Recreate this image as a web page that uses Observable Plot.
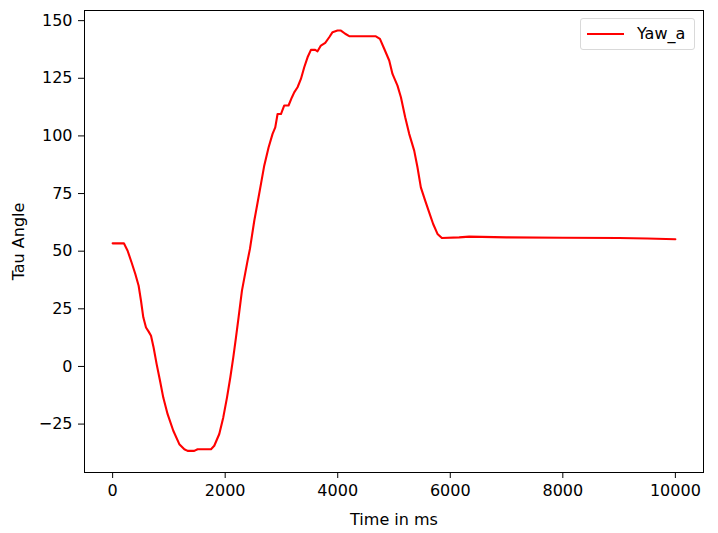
<!DOCTYPE html>
<html>
<head>
<meta charset="utf-8">
<script src="https://cdn.jsdelivr.net/npm/d3@7"></script>
<script src="https://cdn.jsdelivr.net/npm/@observablehq/plot@0.6"></script>
<style>
  html, body { margin: 0; padding: 0; background: #fff; }
  #wrap { position: relative; width: 718px; height: 533px; font-family: "DejaVu Sans", sans-serif; }
  #legend {
    position: absolute; left: 580px; top: 18px; width: 115px; height: 32px;
    box-sizing: border-box; border: 1px solid #d9d9d9; border-radius: 3px; background: rgba(255,255,255,0.8);
    font-size: 16px; color: #000;
  }
  #legend .sw { position: absolute; left: 6px; top: 14px; width: 37px; height: 2px; background: red; }
  #legend .lb { position: absolute; left: 56px; top: 6px; line-height: 18px; }
</style>
</head>
<body>
<div id="wrap"></div>
<script>
const seriesName = "Yaw_a";
const timeMs = [0, 200, 266, 337, 403, 462, 504, 545, 593, 640, 682, 728, 782, 842, 900, 977, 1078, 1185, 1274, 1332, 1451, 1510, 1748, 1806, 1895, 1966, 2032, 2091, 2144, 2192, 2238, 2298, 2398, 2440, 2517, 2593, 2636, 2694, 2771, 2842, 2890, 2931, 2991, 3050, 3126, 3187, 3227, 3286, 3346, 3405, 3464, 3524, 3600, 3641, 3701, 3778, 3849, 3908, 3996, 4057, 4133, 4204, 4678, 4750, 4826, 4915, 4973, 5062, 5123, 5199, 5270, 5359, 5417, 5477, 5554, 5625, 5696, 5773, 5851, 6158, 6336, 7000, 8000, 9000, 9500, 10000];
const yawA = [53.4, 53.4, 50.2, 45.1, 40.1, 35.0, 28.5, 21.3, 16.9, 15.1, 13.3, 8.2, 1.0, -6.2, -13.5, -20.7, -27.9, -33.7, -35.9, -36.6, -36.6, -35.9, -35.9, -34.4, -29.3, -22.1, -13.5, -4.8, 3.9, 12.6, 21.3, 32.9, 45.9, 51.0, 63.2, 73.4, 79.2, 87.1, 95.0, 100.9, 103.7, 109.5, 109.5, 113.2, 113.2, 116.8, 118.9, 121.1, 124.7, 129.8, 134.1, 137.3, 137.3, 136.7, 139.2, 140.4, 142.8, 145.0, 145.7, 145.7, 144.3, 143.3, 143.2, 142.1, 137.8, 132.7, 126.9, 121.8, 116.8, 108.1, 100.9, 93.6, 86.4, 77.7, 71.9, 66.8, 61.8, 57.5, 55.7, 56.0, 56.3, 56.0, 55.8, 55.7, 55.5, 55.2];
const xTicks = [0, 2000, 4000, 6000, 8000, 10000];
const yTicks = [-25, 0, 25, 50, 75, 100, 125, 150];
const xLabel = "Time in ms";
const yLabel = "Tau Angle";

const data = timeMs.map((t, i) => ({t, v: yawA[i]}));
const minus = d => (d < 0 ? "\u2212" + Math.abs(d) : String(d));

const chart = Plot.plot({
  width: 718,
  height: 533,
  marginLeft: 84,
  marginRight: 15,
  marginTop: 10,
  marginBottom: 61,
  style: {fontFamily: "DejaVu Sans, sans-serif", fontSize: "16px", color: "#000", background: "#fff"},
  x: {domain: [-500, 10500]},
  y: {domain: [-46, 154.4]},
  marks: [
    Plot.frame({stroke: "#000", strokeWidth: 1}),
    Plot.axisX({ticks: xTicks, tickSize: 6, tickPadding: 6, tickFormat: minus, label: xLabel, labelAnchor: "center", labelArrow: "none", labelOffset: 52, fontSize: 16}),
    Plot.axisY({ticks: yTicks, tickSize: 6, tickPadding: 6, tickFormat: minus, label: yLabel, labelAnchor: "center", labelArrow: "none", labelOffset: 72, fontSize: 16}),
    Plot.line(data, {x: "t", y: "v", stroke: "red", strokeWidth: 2.1})
  ]
});
const wrap = document.getElementById("wrap");
wrap.appendChild(chart);
const lg = document.createElement("div");
lg.id = "legend";
lg.innerHTML = '<div class="sw"></div><div class="lb"></div>';
lg.querySelector(".lb").textContent = seriesName;
wrap.appendChild(lg);
</script>
</body>
</html>
